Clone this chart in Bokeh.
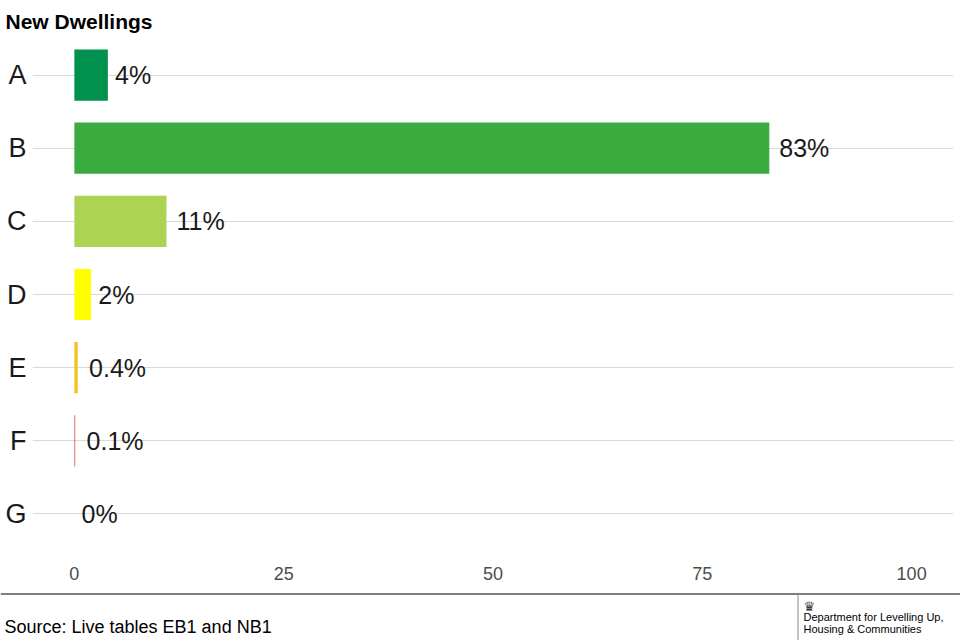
from bokeh.plotting import figure
from bokeh.models import ColumnDataSource, FactorRange, Range1d, Label, Span, FixedTicker
from bokeh.layouts import column
from bokeh.embed import file_html
from bokeh.resources import INLINE
from bokeh.core.properties import value

# ---- data ----
bands = ["A", "B", "C", "D", "E", "F", "G"]
shares = [4, 83, 11, 2, 0.4, 0.1, 0]
share_labels = ["4%", "83%", "11%", "2%", "0.4%", "0.1%", "0%"]
band_colors = ["#00914f", "#3bab3f", "#acd452", "#ffff00", "#f5c020", "#e05050", "#e9153b"]
x_ticks = [0, 25, 50, 75, 100]
title_text = "New Dwellings"
source_text = "Source: Live tables EB1 and NB1"
dept_lines = ["Department for Levelling Up,", "Housing & Communities"]

FONT = "Liberation Sans"

# approximate text width (Arial metrics, em) for an hjust-like nudge
_w = {"0": .556, "1": .556, "2": .556, "3": .556, "4": .556, "8": .556, ".": .278, "%": .889}
def text_w(s, size):
    return sum(_w.get(c, .556) for c in s) * size

label_size = 25
offsets = [0.2 * text_w(s, label_size) for s in share_labels]

src = ColumnDataSource(dict(band=bands, share=shares, lab=share_labels,
                            color=band_colors, off=offsets))


def strip(fig):
    fig.grid.visible = False
    fig.outline_line_color = None
    fig.border_fill_color = "white"
    fig.background_fill_color = "white"


# ---- header (title) ----
h = figure(width=960, height=38, x_range=Range1d(0, 960), y_range=Range1d(38, 0),
           min_border=0, x_axis_location=None, y_axis_location=None,
           output_backend="svg", toolbar_location=None)
strip(h)
h.add_layout(Label(x=5, y=21, text=title_text, text_font=FONT, text_font_size="21px",
                   text_font_style="bold", text_color="#000000", text_baseline="alphabetic"))

# ---- main chart ----
p = figure(y_range=FactorRange(factors=bands[::-1], range_padding=0),
           x_range=Range1d(-5, 105),
           frame_width=921, frame_height=512,
           min_border_left=32, min_border_right=7, min_border_top=0, min_border_bottom=42,
           output_backend="svg", toolbar_location=None)
p.title = None

p.hbar(y="band", left=0, right="share", height=0.7, color="color", line_color=None, source=src)
p.text(x="share", y="band", text="lab", x_offset="off", source=src,
       text_font=value(FONT), text_font_size=f"{label_size}px",
       text_align="left", text_baseline="middle", text_color="#1a1a1a")

p.outline_line_color = None
p.background_fill_color = "white"
p.border_fill_color = "white"
p.xgrid.grid_line_color = None
p.ygrid.grid_line_color = "#d9d9d9"
p.ygrid.grid_line_width = 1

p.xaxis.ticker = FixedTicker(ticks=x_ticks)
p.xaxis.axis_line_color = None
p.xaxis.major_tick_line_color = None
p.xaxis.minor_tick_line_color = None
p.xaxis.major_tick_out = 0
p.xaxis.major_tick_in = 0
p.xaxis.major_label_standoff = 16
p.xaxis.major_label_text_font = FONT
p.xaxis.major_label_text_font_size = "18px"
p.xaxis.major_label_text_color = "#4d4d4d"

p.yaxis.axis_line_color = None
p.yaxis.major_tick_line_color = None
p.yaxis.major_tick_out = 0
p.yaxis.major_tick_in = 0
p.yaxis.major_label_standoff = 6
p.yaxis.major_label_text_font = FONT
p.yaxis.major_label_text_font_size = "27px"
p.yaxis.major_label_text_color = "#1a1a1a"

# ---- footer ----
f = figure(width=960, height=48, x_range=Range1d(0, 960), y_range=Range1d(48, 0),
           min_border=0, x_axis_location=None, y_axis_location=None,
           output_backend="svg", toolbar_location=None)
strip(f)
f.add_layout(Span(location=1.5, dimension="width", line_color="#555555", line_width=1.5))
f.add_layout(Span(location=797.5, dimension="height", line_color="#8a8a8a", line_width=1))
f.add_layout(Label(x=4, y=34, text=source_text, text_font=FONT, text_font_size="18px",
                   text_color="#000000", text_baseline="alphabetic"))
f.add_layout(Label(x=803, y=14, text="♛", text_font="DejaVu Sans", text_font_size="13px",
                   text_color="#333333", text_baseline="alphabetic"))
f.add_layout(Label(x=803, y=24, text=dept_lines[0], text_font=FONT, text_font_size="11px",
                   text_color="#000000", text_baseline="alphabetic"))
f.add_layout(Label(x=803, y=36, text=dept_lines[1], text_font=FONT, text_font_size="11px",
                   text_color="#000000", text_baseline="alphabetic"))

for fig in (h, p, f):
    try:
        fig.frame_align = False
    except Exception:
        pass

layout = column(h, p, f, spacing=0)
open("out.html", "w").write(file_html(layout, INLINE))
